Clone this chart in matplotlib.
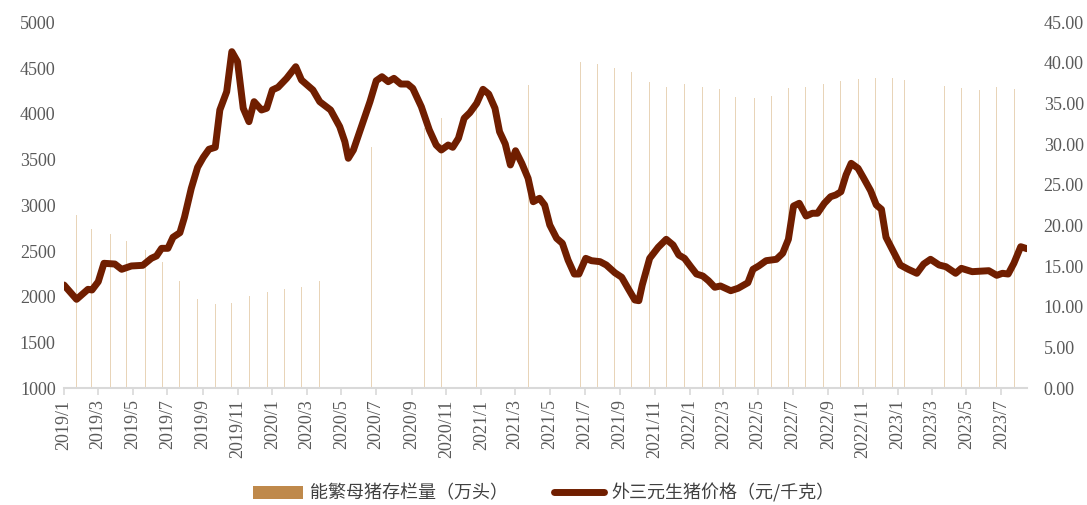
import pandas as pd
import matplotlib.pyplot as plt
import matplotlib.dates as mdates
from matplotlib.patches import Patch
from matplotlib.lines import Line2D
from matplotlib.ticker import FuncFormatter

# 能繁母猪存栏量（万头）, monthly, some months missing
sow_dates = [
    '2019-01-23', '2019-02-19', '2019-03-23', '2019-04-21', '2019-05-23', '2019-06-22',
    '2019-07-23', '2019-08-23', '2019-09-23', '2019-10-22', '2019-11-22', '2019-12-23',
    '2020-01-23', '2020-02-21', '2020-03-24', '2020-06-23', '2020-09-23', '2020-10-24',
    '2020-12-23', '2021-03-24', '2021-06-23', '2021-07-23', '2021-08-23', '2021-09-22',
    '2021-10-23', '2021-11-22', '2021-12-23', '2022-01-24', '2022-02-22', '2022-03-23',
    '2022-04-24', '2022-05-24', '2022-06-23', '2022-07-23', '2022-08-24', '2022-09-23',
    '2022-10-24', '2022-11-23', '2022-12-23', '2023-01-13', '2023-03-24', '2023-04-23',
    '2023-05-24', '2023-06-23', '2023-07-24',
]
sow_values = [
    2890, 2745, 2685, 2615, 2510, 2385,
    2175, 1975, 1920, 1930, 2010, 2055,
    2080, 2110, 2175, 3640, 3850, 3950,
    4140, 4315, 4565, 4540, 4500, 4460,
    4350, 4295, 4325, 4290, 4268, 4185,
    4177, 4192, 4277, 4298, 4324, 4362,
    4379, 4394, 4390, 4367, 4305, 4284,
    4258, 4296, 4271,
]

# 外三元生猪价格（元/千克）
price_dates = [
    '2019-01-01', '2019-01-23', '2019-02-12', '2019-02-19', '2019-03-02', '2019-03-12',
    '2019-03-31', '2019-04-12', '2019-04-29', '2019-05-19', '2019-06-03', '2019-06-12',
    '2019-06-21', '2019-07-02', '2019-07-11', '2019-07-23', '2019-07-31', '2019-08-12',
    '2019-08-23', '2019-09-02', '2019-09-12', '2019-09-23', '2019-10-01', '2019-10-13',
    '2019-10-22', '2019-11-01', '2019-11-11', '2019-11-21', '2019-11-30', '2019-12-13',
    '2019-12-22', '2020-01-01', '2020-01-11', '2020-01-26', '2020-02-11', '2020-02-21',
    '2020-03-12', '2020-03-24', '2020-04-12', '2020-04-28', '2020-05-07', '2020-05-13',
    '2020-05-22', '2020-06-05', '2020-06-20', '2020-07-01', '2020-07-11', '2020-07-22',
    '2020-08-01', '2020-08-13', '2020-08-25', '2020-09-03', '2020-09-18', '2020-10-02',
    '2020-10-14', '2020-10-23', '2020-11-04', '2020-11-12', '2020-11-22', '2020-12-02',
    '2020-12-12', '2020-12-24', '2021-01-04', '2021-01-14', '2021-01-25', '2021-02-02',
    '2021-02-12', '2021-02-21', '2021-03-02', '2021-03-13', '2021-03-24', '2021-04-02',
    '2021-04-13', '2021-04-22', '2021-05-01', '2021-05-13', '2021-05-23', '2021-06-02',
    '2021-06-13', '2021-06-21', '2021-07-03', '2021-07-13', '2021-07-28', '2021-08-08',
    '2021-08-23', '2021-09-04', '2021-09-15', '2021-09-27', '2021-10-04', '2021-10-10',
    '2021-10-23', '2021-11-07', '2021-11-21', '2021-12-03', '2021-12-13', '2021-12-23',
    '2022-01-03', '2022-01-13', '2022-01-24', '2022-02-03', '2022-02-14', '2022-02-24',
    '2022-03-14', '2022-03-27', '2022-04-13', '2022-04-22', '2022-05-02', '2022-05-15',
    '2022-06-02', '2022-06-13', '2022-06-23', '2022-07-02', '2022-07-12', '2022-07-24',
    '2022-08-04', '2022-08-13', '2022-08-25', '2022-09-05', '2022-09-14', '2022-09-23',
    '2022-10-02', '2022-10-11', '2022-10-23', '2022-11-02', '2022-11-14', '2022-11-24',
    '2022-12-03', '2022-12-11', '2022-12-24', '2023-01-05', '2023-01-19', '2023-02-03',
    '2023-02-15', '2023-02-27', '2023-03-14', '2023-03-26', '2023-04-12', '2023-04-22',
    '2023-05-11', '2023-06-09', '2023-06-23', '2023-07-03', '2023-07-13', '2023-07-23',
    '2023-08-04', '2023-08-15',
]
price_values = [
    12.70, 10.94, 12.17, 12.09, 13.11, 15.37,
    15.28, 14.63, 15.04, 15.12, 15.98, 16.27,
    17.21, 17.21, 18.57, 19.13, 21.02, 24.59,
    27.17, 28.40, 29.39, 29.63, 34.22, 36.47,
    41.39, 40.16, 34.43, 32.78, 35.24, 34.22,
    34.43, 36.68, 37.01, 38.11, 39.54, 37.90,
    36.68, 35.24, 34.22, 32.17, 30.32, 28.28,
    29.30, 32.17, 35.24, 37.82, 38.31, 37.70,
    38.11, 37.41, 37.41, 36.88, 34.62, 31.76,
    29.91, 29.30, 29.91, 29.63, 30.74, 33.20,
    33.89, 35.04, 36.76, 36.18, 34.43, 31.55,
    30.04, 27.46, 29.21, 27.66, 25.82, 22.94,
    23.36, 22.54, 20.08, 18.44, 17.83, 15.77,
    14.05, 14.05, 15.98, 15.69, 15.57, 15.16,
    14.21, 13.65, 12.30, 10.86, 10.77, 12.70,
    15.98, 17.34, 18.32, 17.62, 16.39, 15.98,
    14.95, 14.05, 13.81, 13.23, 12.42, 12.58,
    12.00, 12.30, 12.98, 14.63, 15.04, 15.69,
    15.86, 16.60, 18.32, 22.41, 22.75, 21.18,
    21.52, 21.52, 22.75, 23.56, 23.77, 24.17,
    26.23, 27.66, 27.05, 25.82, 24.30, 22.54,
    22.01, 18.57, 16.80, 15.16, 14.63, 14.14,
    15.28, 15.86, 15.16, 14.95, 14.14, 14.75,
    14.34, 14.46, 13.89, 14.14, 14.05, 15.37,
    17.41, 17.16,
]

BAR_COLOR = '#E8D4B8'
BAR_LEGEND = '#BF894B'
LINE_COLOR = '#701E00'
TEXT_COLOR = '#595959'
AXIS_COLOR = '#D9D9D9'

sow_x = pd.to_datetime(sow_dates)
price_x = pd.to_datetime(price_dates)

fig = plt.figure(figsize=(10.87, 5.05), dpi=100)
ax = fig.add_axes([64 / 1087, 1 - 388.3 / 505, (1027 - 64) / 1087, (388.3 - 22.3) / 505])
ax2 = ax.twinx()

ax.bar(sow_x, sow_values, width=1.8, bottom=0, color=BAR_COLOR, linewidth=0)
ax.set_ylim(1000, 5000)
ax.set_yticks(range(1000, 5001, 500))

ax2.plot(price_x, price_values, color=LINE_COLOR, linewidth=5,
         solid_joinstyle='round', solid_capstyle='round')
ax2.set_ylim(0, 45)
ax2.set_yticks(range(0, 46, 5))
ax2.yaxis.set_major_formatter(FuncFormatter(lambda v, p: f'{v:.2f}'))

ax.set_xlim(pd.to_datetime('2019-01-01'), pd.to_datetime('2023-08-15'))
ax.xaxis.set_major_locator(mdates.MonthLocator(bymonth=[1, 3, 5, 7, 9, 11]))
ax.xaxis.set_major_formatter(FuncFormatter(
    lambda v, p: f'{mdates.num2date(v).year}/{mdates.num2date(v).month}'))

for a in (ax, ax2):
    for s in a.spines.values():
        s.set_visible(False)
ax.spines['bottom'].set_visible(True)
ax.spines['bottom'].set_color(AXIS_COLOR)
ax.spines['bottom'].set_linewidth(1.5)

serif = 'Liberation Serif'
ax.tick_params(axis='x', direction='out', length=5, width=1.2, color=AXIS_COLOR,
               labelcolor=TEXT_COLOR, labelsize=13, rotation=90, pad=3)
ax.tick_params(axis='y', length=0, labelcolor=TEXT_COLOR, labelsize=13, pad=6)
ax2.tick_params(axis='y', length=0, labelcolor=TEXT_COLOR, labelsize=13, pad=12)
for lab in ax.get_xticklabels() + ax.get_yticklabels() + ax2.get_yticklabels():
    lab.set_fontfamily(serif)

handles = [Patch(facecolor=BAR_LEGEND, edgecolor='none'),
           Line2D([0], [0], color=LINE_COLOR, linewidth=5, solid_capstyle='round')]
labels = ['能繁母猪存栏量（万头）', '外三元生猪价格（元/千克）']
fig.legend(handles, labels, loc='center', bbox_to_anchor=(0.5, 1 - 493 / 505), ncol=2,
           frameon=False, handlelength=2.8, handletextpad=0.4, columnspacing=2.5,
           prop={'family': ['Noto Sans CJK SC', 'DejaVu Sans'], 'size': 13},
           labelcolor='#404040')

fig.savefig('out.png', dpi=100)
